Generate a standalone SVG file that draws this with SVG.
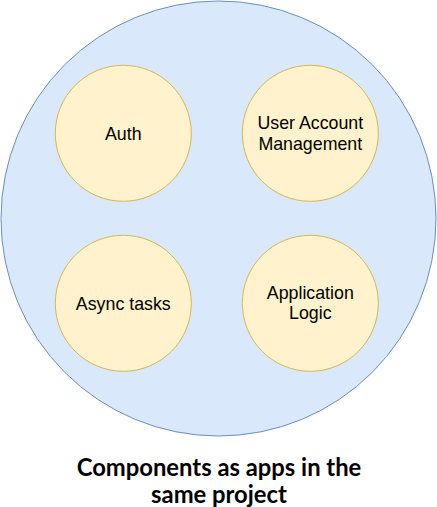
<svg xmlns="http://www.w3.org/2000/svg" width="437" height="507" viewBox="0 0 437 507">
<style>
.big{fill:#dae8fc;stroke:#6c8ebf;stroke-width:1}
.node{fill:#fff2cc;stroke:#d6b656;stroke-width:1}
.lbl{font-family:"Liberation Sans",Arial,sans-serif;font-size:17.8px;fill:#000;text-anchor:middle}
.title{font-family:Lato,"Liberation Sans",sans-serif;font-weight:bold;font-size:23.8px;fill:#000;text-anchor:middle}
</style>
<g id="project">
<ellipse class="big" cx="218.5" cy="218.5" rx="217.5" ry="217.5"/>
</g>
<g id="connectors"></g>
<g id="auth">
<circle class="node" cx="123.3" cy="133.3" r="68"/>
<text class="lbl" x="123.3" y="139.5">Auth</text>
</g>
<g id="user-account">
<circle class="node" cx="310.3" cy="133.3" r="68"/>
<text class="lbl" x="310.3" y="129.3">User Account</text>
<text class="lbl" x="310.3" y="149.8">Management</text>
</g>
<g id="async">
<circle class="node" cx="123.3" cy="303.3" r="68"/>
<text class="lbl" x="123.3" y="309.5">Async tasks</text>
</g>
<g id="app-logic">
<circle class="node" cx="310.3" cy="303.3" r="68"/>
<text class="lbl" x="310.3" y="298.8">Application</text>
<text class="lbl" x="310.3" y="319.3">Logic</text>
</g>
<g id="caption">
<text class="title" x="219" y="475.5">Components as apps in the</text>
<text class="title" x="219" y="503">same project</text>
</g>
</svg>
